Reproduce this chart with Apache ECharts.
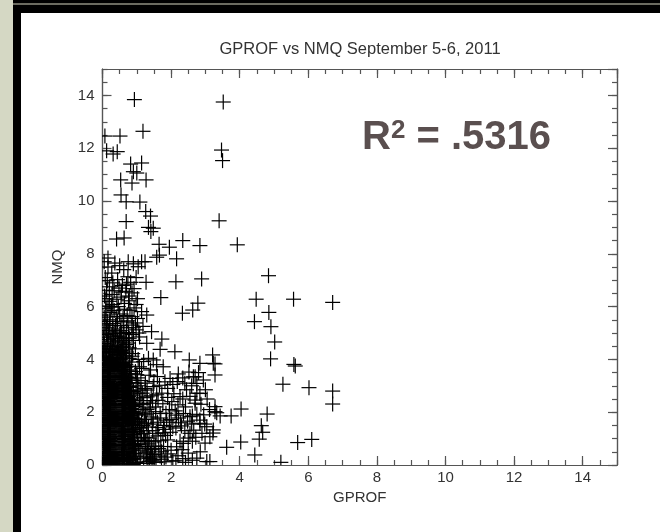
<!DOCTYPE html>
<html><head><meta charset="utf-8">
<style>html,body{margin:0;padding:0;background:#fff}#c{width:660px;height:532px}</style>
<script src="https://cdn.jsdelivr.net/npm/echarts@6/dist/echarts.min.js"></script></head>
<body><div id="c"></div>
<script>
const chartTitle = 'GPROF vs NMQ September 5-6, 2011';
const xName = 'GPROF', yName = 'NMQ';
// [GPROF, NMQ] pairs
const outliers = [[.93,13.84],[3.52,13.75],[1.18,12.64],[.51,12.46],[.07,12.46],[.43,11.87],[.31,11.78],[.12,11.9],[3.47,11.93],[3.5,11.53],[1.14,11.44],[.82,11.4],[.9,11.11],[1,11.06],[.53,10.8],[1.27,10.8],[.86,10.68],[.54,10.23],[.69,9.97],[1.09,9.96],[1.26,9.6],[1.4,9.43],[.69,9.22],[3.4,9.25],[1.34,9],[1.48,8.97],[.41,8.56],[.63,8.6],[2.34,8.5],[1.65,8.36],[1.95,8.25],[2.84,8.31],[3.93,8.34],[1.66,7.95],[2.16,7.81],[1.58,7.87],[1.41,8.84]];
const rightSide = [[4.84,7.17],[4.48,6.28],[5.57,6.28],[6.71,6.16],[4.85,5.78],[4.43,5.43],[4.91,5.24],[5.02,4.66],[4.9,4.02],[5.58,3.81],[5.62,3.75],[5.26,3.06],[6.02,2.93],[6.71,2.8],[6.71,2.31],[4.8,1.93],[4.63,1.49],[4.67,1.24],[4.57,.98],[5.69,.85],[6.1,.97],[4.44,.38],[5.2,.1],[4.04,2.12],[4.03,.87],[3.62,.67]];
const midScatter = [[2.14,6.94],[2.89,7.05],[1.27,6.92],[1.7,6.34],[2.78,6.13],[2.33,5.75],[2.63,5.87],[1.14,5.81],[1.29,5.68],[1.43,5.05],[1.73,4.77],[1.29,4.61],[1.68,4.38],[2.11,4.29],[2.53,3.98],[3.21,4.17],[2.84,3.85],[3.23,3.85],[3.28,3.41],[3.28,2.02],[3.43,1.86],[3.75,1.86],[3.23,1.33],[3.13,1.07],[2.99,.83],[2.75,.26],[3.04,.13],[2.84,1.7],[3.04,1.45],[2.75,3.09],[2.94,3.22],[2.65,3.34],[2.7,2.46],[2.84,2.71],[2.87,2.3],[3.28,3.83],[2.21,3.45],[2.7,3.34],[1.97,3.28],[1.77,3.72],[1.34,4.04],[1.48,3.98],[1.14,3.66],[1.48,2.97],[2.26,2.59],[1.73,2.72],[2.75,2.72],[2.7,2.34],[3.28,2.21],[3.33,1.98],[2.55,1.83],[2.16,1.89],[2.84,1.58],[3.22,1.21],[2.36,.82],[3.13,.13],[2.16,.69],[2.55,1.2],[1.87,1.7],[2.4,3.1],[2.05,3.05],[1.82,3.15],[1.6,3.35],[2.45,2.85],[2.02,2.4],[1.62,2.45],[2.42,2.2],[1.95,2.1],[2.28,1.6],[2.6,1.55],[2.05,1.45],[2.72,1.05],[2.4,1.3],[1.8,1.35],[1.68,1.95],[1.55,2.2],[1.42,2.62],[1.25,3.1],[1.36,3.4],[1.18,2.55],[1.3,2.1],[1.22,1.72],[1.45,1.55],[1.62,1.1],[1.9,.95],[2.2,.35],[2.5,.45],[2.62,.18],[2.42,.1],[2.85,.5],[1.85,.3],[2.05,.15],[1.72,.5],[1.5,.2],[1.35,.8],[1.55,.72],[1.72,.22],[2.32,.58],
[1.55,2.02],[1.7,1.78],[1.85,1.96],[2.0,1.72],[2.12,2.05],[2.22,1.78],[2.36,1.95],[2.48,1.66],[2.62,1.86],[2.75,1.92],[1.42,1.82],[1.6,1.62],[1.78,1.5],[1.95,1.62],[2.14,1.4],[2.3,1.48],[2.5,1.02],[2.62,.9],[2.66,1.32],[2.9,1.2],[2.98,1.55],[1.4,2.34],[1.58,2.66],[1.76,2.32],[1.9,2.56],[2.08,2.7],[2.2,2.28],[2.34,2.5],[2.55,2.6],[2.6,3.0],[1.5,3.16],[1.66,3.02],[1.9,2.9],[2.18,3.16],[2.34,3.3],[2.52,3.52],[2.8,3.5],[3.0,2.85],[3.05,2.5],[3.12,2.1],[2.95,1.9],[1.3,2.84],[1.4,3.6],[1.2,3.92],[1.58,3.8],[1.02,3.3]];
const lowerTail = [[1.32,.06],[1.44,.16],[1.56,.1],[1.68,.34],[1.8,.12],[1.38,.24],[1.52,.4],[1.64,.62],[1.78,.7],[1.9,.42],[1.42,.7],[1.5,.88],[1.36,1.02],[1.56,1.2],[1.7,.92],[1.84,1.12],[1.46,1.3],[1.62,1.42],[1.34,1.44],[1.76,1.22],[1.28,1.58],[1.48,1.74],[1.24,1.96],[1.36,2.16],[1.2,2.3],[1.46,2.44],[1.3,2.58],[1.16,2.72],[1.24,2.9],[1.12,3.2],[2.0,.56],[2.14,.16],[2.26,.9],[2.34,.24],[1.98,1.24]];
const upperBand = [[.75,7.7],[1.14,7.7],[1.24,7.7],[1.04,7.51],[.16,7.84],[.36,7.65],[.16,7.5],[.74,7.13],[.27,7.27],[.05,7.7],[.5,7.55],[.62,7.4],[.9,7.62],[.98,7.1],[.44,7.02],[.08,7.1],[.7,6.85],[.2,6.75],[.34,6.6],[.92,6.68],[.55,6.55],[.06,6.4],[.78,6.4],[.42,6.28],[1.02,6.3],[.2,6.2],[.64,6.12],[.92,5.95],[.1,5.92],[.34,5.85],[.5,5.72],[.72,5.66],[1.02,5.55],[.05,5.6],[.22,5.5],[.62,5.42],[.86,5.3],[.38,5.28],[.12,5.2],[.52,5.1],[.76,5.02],[.04,5],[.28,4.92],[.98,5.12],[.66,4.82],[.16,4.76],[.44,4.7],[.9,4.72],[1.08,4.85],[1.18,5.25],[.07,5.35],[.3,5.15],
[.14,6.98],[.3,6.9],[.58,6.8],[.82,6.92],[.12,6.62],[.48,6.7],[.68,6.58],[.28,6.46],[.86,6.52],[.1,6.3],[.54,6.36],[.76,6.22],[.98,6.08],[.3,6.08],[.46,6],[.16,6.02],[.8,5.86],[.64,5.9],[.22,5.78],[.4,5.62],[.86,5.62],[.6,5.56],[.14,5.44],[.44,5.44],[.74,5.46],[.3,5.36],[.96,5.38],[.54,5.28],[.7,5.2],[.18,5.08],[.42,5.04],[.62,4.98],[.86,4.94],[.12,4.94],[.32,4.8],[.5,4.88],[.78,4.8],[.24,4.7],[.6,4.66],[.7,4.72],[.1,5.1],[.2,5.3],[.1,5.68],[.26,5.98],[.9,5.2],[1.06,5.0],[.56,5.0],[.04,4.84],[.36,4.98]];
const denseCore = [[.05,4.6],[.24,4.55],[.46,4.62],[.62,4.5],[.78,4.44],[.1,4.42],[.36,4.4],[.54,4.34],[.7,4.28],[.02,4.26],[.2,4.24],[.88,4.22],[.44,4.18],[.62,4.14],[.12,4.1],[.3,4.06],[.78,4.04],[.52,4],[.04,3.96],[.68,3.94],[.24,3.92],[.28,4.32],[.14,4.66],[.54,4.78],[.38,4.86],[.66,4.36],[.84,3.9],[.82,3.3],[.84,2.66],[.9,2.3],[.95,1.95],[1.02,1.72],[1.1,1.4],[1.2,1.2],[1.25,.9],[1.3,.62],[1.28,.3],[1.4,.42],[1.06,2.0],[1.12,2.32],[1.02,2.72],[.98,3.1],[.96,3.54],[1.04,4.0],[.96,4.4],[.16,4.5],[.58,4.46],[.22,4.38],[.66,4.22],[.18,4.16],[.6,4.08],[.86,4.12],[.42,4.26],[.3,4.48],[.7,4.56],[.76,4.62]];
const coreNmq = [.02,.05,.09,.13,.17,.2,.25,.28,.33,.36,.41,.44,.49,.52,.57,.6,.65,.68,.73,.76,.81,.84,.89,.92,.97,1,1.05,1.08,1.13,1.16,1.21,1.24,1.29,1.32,1.37,1.4,1.45,1.48,1.53,1.56,1.61,1.64,1.69,1.72,1.77,1.8,1.85,1.88,1.93,1.96,2.01,2.04,2.09,2.12,2.17,2.2,2.25,2.28,2.33,2.36,2.41,2.44,2.49,2.52,2.57,2.6,2.65,2.68,2.73,2.76,2.81,2.84,2.89,2.92,2.97,3,3.05,3.08,3.13,3.16,3.21,3.24,3.29,3.32,3.37,3.4,3.45,3.48,3.53,3.56,3.61,3.64,3.69,3.72,3.77,3.8,3.85,3.88];
const coreLeft = [.18,.2,.16,.21,.19,.15,.2,.17,.22,.18,.14,.2,.19,.16,.22,.17,.2,.15,.21,.18,.19,.16,.2,.22,.17,.15,.21,.19,.18,.2,.16,.22,.17,.19,.15,.21,.18,.2,.16,.22,.19,.17,.21,.15,.18,.2,.22,.16,.19,.17,.21,.18,.15,.2,.22,.16,.19,.17,.21,.18,.2,.15,.22,.17,.19,.16,.21,.18,.2,.15,.22,.19,.17,.21,.16,.18,.2,.22,.15,.19,.17,.21,.18,.16,.2,.22,.19,.15,.17,.21,.18,.2,.16,.22,.17,.19,.15,.21];
const coreRight = [.88,.62,.96,.6,.66,.92,.58,.64,.98,.61,.56,.94,.63,.68,.9,.59,.65,.96,.57,.62,.92,.66,.6,.88,.64,.58,.94,.61,.67,.9,.63,.56,.86,.6,.66,.92,.58,.62,.88,.65,.57,.84,.61,.67,.9,.59,.63,.82,.6,.66,.86,.58,.62,.8,.65,.57,.84,.61,.67,.78,.59,.63,.82,.6,.66,.76,.58,.62,.8,.65,.57,.74,.61,.67,.78,.59,.63,.72,.6,.66,.76,.58,.62,.7,.65,.57,.68,.61,.64,.72,.59,.63,.66,.6,.62,.68,.58,.6];
const coreOuter = [[1.02,.06],[1.2,.12],[1.1,.26],[.98,.38],[1.24,.46],[1.06,.56],[.96,.62],[1.18,.7],[1.04,.78],[.94,.88],[1.12,.94],[1.02,1.02],[.92,1.1],[1.14,1.18],[1,1.26],[.9,1.34],[1.08,1.42],[.96,1.5],[.88,1.58],[1.04,1.66],[.94,1.74],[.86,1.82],[1,1.9],[.9,2.02],[.84,2.14],[.96,2.22],[.88,2.38],[.92,2.5],[.84,2.62],[.9,2.78],[.82,2.94],[.86,3.12],[.8,3.26],[.84,3.46],[.8,3.6],[.78,3.74],[1.36,.14],[1.46,.3],[1.32,.5],[1.44,.58],[1.3,.92],[1.22,1.04],[1.3,1.3],[1.18,1.5],[1.14,1.62],[1.26,1.9],[1.16,2.1],[1.08,2.44],[1.12,2.84],[1.06,3],[1,3.42],[1.08,3.72]];
// columns of crosses packed inside the solid black area, one list per NMQ level
const levelA = [.02,.05,.08,.11,.14,.23,.26,.29,.32,.35,.38,.41,.44,.47,.5,.53,.56,.7,.73,.76,.79,.82,.85,.88,.91];
const levelB = [.03,.06,.09,.12,.24,.27,.3,.33,.36,.39,.42,.45,.48,.51,.54,.57,.69,.72,.75,.78,.81,.84,.87,.9,.93];
const levelC = [.01,.04,.07,.1,.13,.22,.25,.28,.31,.34,.37,.4,.43,.46,.49,.52,.55,.71,.74,.77,.8,.83,.86,.89];
const levelD = [.02,.05,.08,.11,.14,.23,.26,.29,.32,.35,.38,.41,.44,.47,.5,.53,.56,.7,.73,.76,.79,.82];
const coreColumns = [].concat(
  levelA.map(x=>[x,.24]), levelB.map(x=>[x,.74]), levelC.map(x=>[x,1.26]), levelA.map(x=>[x,1.77]),
  levelB.map(x=>[x,2.29]), levelD.map(x=>[x,2.81]), levelC.slice(0,18).map(x=>[x,3.33]), levelD.slice(0,17).map(x=>[x,3.82]),
  levelC.slice(0,17).map(x=>[x,4.27]));
const coreFill = coreNmq.flatMap((y,i)=>[[coreLeft[i],y],[coreRight[i],y]]);
const allPoints = [].concat(outliers, rightSide, midScatter, lowerTail, upperBand, denseCore, coreOuter, coreColumns, coreFill);
const majorTicks = 2, minorTicks = 0.5, axisMax = 15;

const mkAxis = (pos, interval, len, labels, name) => ({
  type:'value', position:pos, min:0, max:axisMax, interval,
  axisLine:{show:true,onZero:false,lineStyle:{color:'#555',width:1.2}},
  axisTick:{show:true,inside:true,length:len,lineStyle:{color:'#555',width:1.2}},
  splitLine:{show:false},
  axisLabel:{show:labels,color:'#333',fontSize:15,fontFamily:'Liberation Sans',margin:labels&&pos==='bottom'?5:8,showMaxLabel:false},
  ...(name||{})
});
const armPx = 7.5;
const renderPlus = (params, api) => {
  const c = api.coord([api.value(0), api.value(1)]);
  const style = {stroke:'#000',lineWidth:1.2,fill:null};
  return {type:'group',children:[
    {type:'line',shape:{x1:c[0]-armPx,y1:c[1],x2:c[0]+armPx,y2:c[1]},style},
    {type:'line',shape:{x1:c[0],y1:c[1]-armPx,x2:c[0],y2:c[1]+armPx},style}
  ]};
};
const chart = echarts.init(document.getElementById('c'),null,{renderer:'canvas'});
chart.setOption({
  animation:false,
  backgroundColor:'#fff',
  title:[
    {text:chartTitle,left:355,top:36,textAlign:'center',textStyle:{fontFamily:'Liberation Sans',fontSize:16.5,fontWeight:'normal',color:'#333'}},
    {text:'{b|R}{s|2}{b| = .5316}',left:357,top:113,textStyle:{rich:{
      b:{fontFamily:'Liberation Sans',fontWeight:'bold',fontSize:40,color:'#5a4f4f'},
      s:{fontFamily:'Liberation Sans',fontSize:26,color:'#5a4f4f',verticalAlign:'top'}}}}
  ],
  grid:{left:102.5,right:43,top:69,bottom:67,containLabel:false},
  graphic:[
    {type:'rect',shape:{x:0,y:0,width:13,height:532},style:{fill:'#d5d8c4'}},
    {type:'rect',shape:{x:13,y:0,width:8,height:532},style:{fill:'#000'}},
    {type:'rect',shape:{x:13,y:0,width:647,height:13},style:{fill:'#000'}},
    {type:'rect',shape:{x:13,y:3,width:647,height:2},style:{fill:'#6b6b60'}}
  ],
  xAxis:[
    mkAxis('bottom',majorTicks,9,true,{name:xName,nameLocation:'middle',nameGap:20,nameTextStyle:{fontFamily:'Liberation Sans',fontSize:15,color:'#333'}}),
    mkAxis('bottom',minorTicks,5,false),
    mkAxis('top',majorTicks,9,false),
    mkAxis('top',minorTicks,5,false)
  ],
  yAxis:[
    mkAxis('left',majorTicks,9,true,{name:yName,nameLocation:'middle',nameGap:37,nameTextStyle:{fontFamily:'Liberation Sans',fontSize:15,color:'#333'}}),
    mkAxis('left',minorTicks,5,false),
    mkAxis('right',majorTicks,9,false),
    mkAxis('right',minorTicks,5,false)
  ],
  series:[{
    type:'custom',xAxisIndex:0,yAxisIndex:0,clip:true,data:allPoints,
    renderItem:renderPlus,encode:{x:0,y:1},silent:true
  }]
});
</script></body></html>
